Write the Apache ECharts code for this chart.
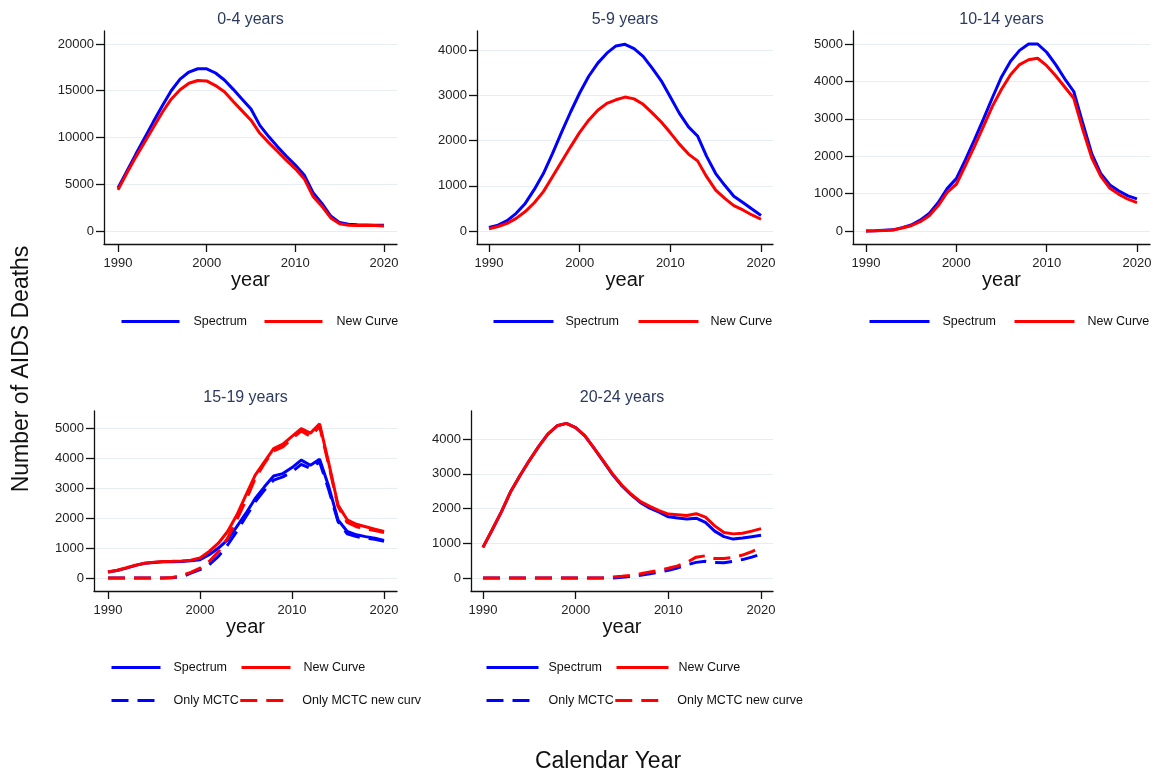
<!DOCTYPE html>
<html><head><meta charset="utf-8">
<script src="https://cdn.jsdelivr.net/npm/echarts@6/dist/echarts.min.js"></script>
<style>html,body{margin:0;padding:0;background:#fff}#c{width:1167px;height:775px}</style>
</head><body><div id="c"></div><script>
// ---------- DATA ----------
const years = [1990,1991,1992,1993,1994,1995,1996,1997,1998,1999,2000,2001,2002,2003,2004,2005,2006,2007,2008,2009,2010,2011,2012,2013,2014,2015,2016,2017,2018,2019,2020];
const xTickYears = [1990, 2000, 2010, 2020];
const yTicks_0_4 = [0, 5000, 10000, 15000, 20000];
const yTicks_5_9 = [0, 1000, 2000, 3000, 4000];
const yTicks_10_14 = [0, 1000, 2000, 3000, 4000, 5000];
const yTicks_15_19 = [0, 1000, 2000, 3000, 4000, 5000];
const yTicks_20_24 = [0, 1000, 2000, 3000, 4000];
const panelTitles = ['0-4 years', '5-9 years', '10-14 years', '15-19 years', '20-24 years'];
const seriesNames = ['Spectrum', 'New Curve', 'Only MCTC', 'Only MCTC new curve'];

const spectrum_0_4 = [4600,6400,8200,9950,11700,13400,15000,16250,17000,17350,17350,16900,16150,15150,14100,13050,11300,10100,9000,8000,7050,6000,4100,2950,1600,900,720,660,640,620,610];
const newCurve_0_4 = [4400,6200,7900,9500,11100,12700,14100,15100,15800,16100,16050,15550,14900,13850,12850,11850,10450,9450,8500,7550,6650,5600,3700,2650,1400,780,620,600,590,580,540];

const spectrum_5_9 = [80,130,230,390,610,920,1270,1710,2180,2630,3050,3420,3710,3930,4090,4125,4030,3860,3600,3320,2960,2600,2300,2100,1650,1270,1010,770,630,485,345];
const newCurve_5_9 = [50,100,170,280,430,625,870,1200,1530,1860,2180,2450,2670,2820,2900,2960,2920,2800,2610,2410,2170,1920,1700,1550,1200,905,720,560,465,355,260];

const spectrum_10_14 = [0,5,20,30,90,160,290,470,760,1140,1400,1900,2440,2990,3570,4120,4540,4830,5000,5000,4780,4450,4070,3730,2880,2060,1530,1230,1070,940,860];
const newCurve_10_14 = [0,5,15,25,80,140,250,410,680,1040,1250,1750,2260,2800,3340,3790,4180,4450,4580,4620,4420,4150,3850,3550,2710,1950,1460,1140,980,850,760];

const spectrum_15_19 = [200,250,330,420,490,520,540,545,550,575,610,775,1000,1270,1710,2160,2650,3040,3400,3480,3680,3930,3760,3960,3040,1940,1550,1440,1380,1330,1250];
const newCurve_15_19 = [200,260,340,425,495,525,550,555,565,590,670,885,1160,1550,2100,2770,3430,3870,4310,4460,4720,4980,4830,5140,3820,2430,1940,1790,1710,1630,1550];
const onlyMCTC_15_19 = [0,0,0,0,0,0,0,10,40,160,280,440,720,1100,1550,2050,2540,2930,3260,3370,3540,3790,3650,3870,2930,1880,1470,1380,1330,1290,1220];
const onlyMCTCnew_15_19 = [0,0,0,0,0,0,0,20,80,190,330,550,880,1330,1940,2600,3320,3820,4240,4370,4650,4900,4720,5050,3760,2380,1850,1710,1640,1580,1520];

const spectrum_20_24 = [880,1390,1910,2490,2950,3380,3780,4140,4380,4450,4330,4090,3730,3350,2970,2650,2390,2170,2010,1895,1760,1730,1700,1720,1600,1350,1190,1120,1150,1190,1230];
const newCurve_20_24 = [880,1390,1910,2490,2950,3380,3780,4140,4380,4450,4330,4090,3730,3360,2990,2670,2410,2200,2060,1940,1840,1820,1800,1850,1750,1500,1310,1270,1290,1350,1420];
const onlyMCTC_20_24 = [0,0,0,0,0,0,0,0,0,0,0,0,0,0,0,20,50,80,120,170,220,290,380,450,480,450,440,480,530,600,690];
const onlyMCTCnew_20_24 = [0,0,0,0,0,0,0,0,0,0,0,0,0,10,30,50,80,120,170,220,280,350,450,600,640,560,560,590,660,760,870];

// ---------- LAYOUT / STYLE ----------
const FONT = '"Liberation Sans", Arial, Helvetica, sans-serif';
const BLUE = '#0000ff', RED = '#ff0000';
const panels = [
  {grid:{left:104,top:31,width:293,height:213}, x:[1988.42,2021.47], y:[-1390,21390], yTicks:yTicks_0_4,
   data:[spectrum_0_4,newCurve_0_4], titleTop:12},
  {grid:{left:477,top:31,width:296,height:213}, x:[1988.68,2021.32], y:[-287,4420], yTicks:yTicks_5_9,
   data:[spectrum_5_9,newCurve_5_9], titleTop:12},
  {grid:{left:853,top:31,width:297,height:213}, x:[1988.56,2021.44], y:[-348,5348], yTicks:yTicks_10_14,
   data:[spectrum_10_14,newCurve_10_14], titleTop:12},
  {grid:{left:94,top:411,width:303,height:180}, x:[1988.48,2021.41], y:[-433,5567], yTicks:yTicks_15_19,
   data:[spectrum_15_19,newCurve_15_19,onlyMCTC_15_19,onlyMCTCnew_15_19], titleTop:390},
  {grid:{left:471,top:411,width:302,height:180}, x:[1988.71,2021.29], y:[-374,4806], yTicks:yTicks_20_24,
   data:[spectrum_20_24,newCurve_20_24,onlyMCTC_20_24,onlyMCTCnew_20_24], titleTop:390}
];
const seriesStyle = [
  {color:BLUE, type:'solid'}, {color:RED, type:'solid'},
  {color:BLUE, type:[17,9]}, {color:RED, type:[17,9]}
];

const axisLineStyle = {color:'#111', width:1.3};
const option = {
  animation:false,
  textStyle:{fontFamily:FONT},
  title: panels.map((p,i)=>({
    text: panelTitles[i], left: p.grid.left + p.grid.width/2, top: p.titleTop, textAlign:'center', padding:0,
    textStyle:{fontSize:16, fontWeight:'normal', color:'#2b3a5e', fontFamily:FONT}
  })),
  grid: panels.map(p=>Object.assign({containLabel:false}, p.grid)),
  xAxis: panels.map((p,i)=>({
    gridIndex:i, type:'value', min:p.x[0], max:p.x[1],
    axisLine:{show:true, onZero:false, lineStyle:axisLineStyle},
    axisTick:{show:true, customValues:xTickYears, length:8, lineStyle:axisLineStyle},
    axisLabel:{customValues:xTickYears, margin:13, fontSize:13, color:'#222', formatter:v=>String(v), fontFamily:FONT},
    splitLine:{show:false},
    name:'year', nameLocation:'middle', nameGap:26, nameTextStyle:{fontSize:20, color:'#111', fontFamily:FONT}
  })),
  yAxis: panels.map((p,i)=>({
    gridIndex:i, type:'value', min:p.y[0], max:p.y[1],
    axisLine:{show:true, onZero:false, lineStyle:axisLineStyle},
    axisTick:{show:true, customValues:p.yTicks, length:8, lineStyle:axisLineStyle},
    axisLabel:{customValues:p.yTicks, margin:10, fontSize:13, color:'#222', formatter:v=>String(v), fontFamily:FONT},
    splitLine:{show:true, lineStyle:{color:'#e6eef2', width:1}}
  })),
  series: [],
  legend: [],
  graphic: [
    {type:'text', x:22, y:369, rotation:Math.PI/2,
     style:{text:'Number of AIDS Deaths', font:'23px '+FONT, fill:'#111', align:'center', verticalAlign:'middle'}},
    {type:'text', x:608, y:762,
     style:{text:'Calendar Year', font:'23px '+FONT, fill:'#111', align:'center', verticalAlign:'middle'}}
  ]
};

panels.forEach((p,i)=>{
  p.data.forEach((vals,k)=>{
    option.series.push({
      name: seriesNames[k], type:'line', xAxisIndex:i, yAxisIndex:i,
      data: years.map((yr,j)=>[yr, vals[j]]),
      symbol:'none', showSymbol:false, smooth:false,
      lineStyle:{color:seriesStyle[k].color, width:3, type:seriesStyle[k].type},
      itemStyle:{color:seriesStyle[k].color}, z: 2+k
    });
  });
});

function legendCfg(left, top, iw, pad, gap, items){
  return {left, top, orient:'horizontal', padding:0, itemGap:gap, itemWidth:iw, itemHeight:14,
    selectedMode:false, data: items,
    itemStyle:{opacity:0, color:'transparent', borderWidth:0},
    lineStyle:{width:3},
    textStyle:{fontSize:12.5, color:'#111', padding:[0,0,0,pad], fontFamily:FONT}};
}
option.legend.push(legendCfg(120, 315, 58, 9, 16, ['Spectrum','New Curve']));
option.legend.push(legendCfg(492, 315, 60, 7, 18, ['Spectrum','New Curve']));
option.legend.push(legendCfg(868, 315, 60, 8, 17, ['Spectrum','New Curve']));
option.legend.push(legendCfg(110, 661, 49, 8, 13, ['Spectrum','New Curve']));
option.legend.push(legendCfg(110, 694, 49, 8, 0, ['Only MCTC',
  {name:'Only MCTC new curve', textStyle:{width:122, overflow:'truncate', ellipsis:''}}]));
option.legend.push(legendCfg(485, 661, 52, 5, 13, ['Spectrum','New Curve']));
option.legend.push(legendCfg(485, 694, 52, 5, 0, ['Only MCTC','Only MCTC new curve']));

const chart = echarts.init(document.getElementById('c'), null, {renderer:'canvas'});
chart.setOption(option);
</script></body></html>
